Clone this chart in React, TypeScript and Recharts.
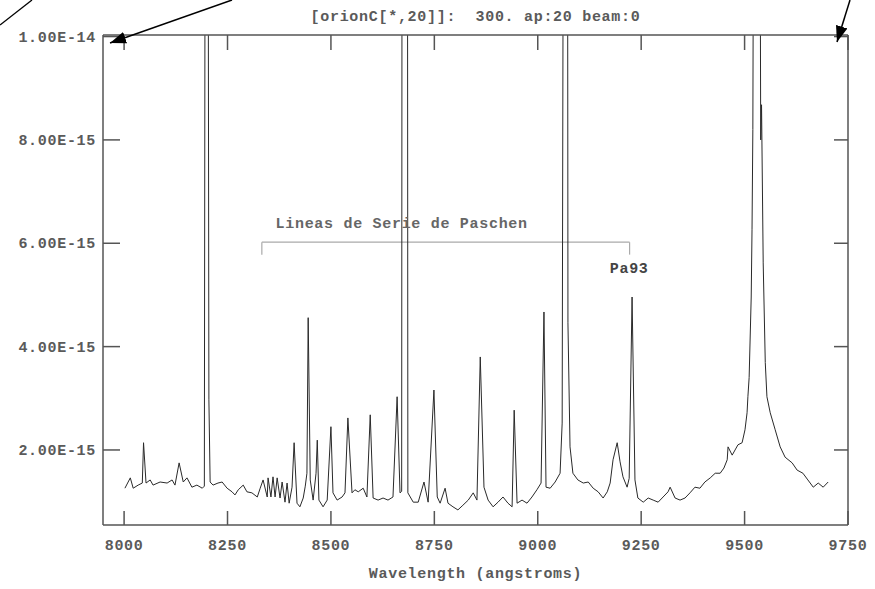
import React from 'react'
import { LineChart, Line, XAxis, YAxis, ReferenceLine, ReferenceDot } from 'recharts'

// wavelength in angstroms, flux in units of 1e-15 erg/s/cm2/A (peaks above 10 run off the plot)
const wavelength = [
  8002, 8015, 8022, 8034, 8044, 8047, 8053, 8063, 8070, 8087, 8104, 8116, 8123, 8133, 8143, 8152,
  8164, 8176, 8189, 8194, 8196, 8203, 8205, 8208, 8215, 8227, 8237, 8249, 8261, 8268, 8276, 8288,
  8297, 8309, 8322, 8329, 8336, 8346, 8348, 8355, 8360, 8365, 8370, 8377, 8382, 8389, 8394, 8399,
  8406, 8411, 8418, 8425, 8433, 8438, 8442, 8445, 8450, 8457, 8464, 8467, 8471, 8481, 8491, 8500,
  8505, 8515, 8527, 8534, 8541, 8551, 8558, 8566, 8578, 8587, 8595, 8602, 8614, 8626, 8638, 8650,
  8660, 8667, 8671, 8672, 8685, 8686, 8699, 8711, 8725, 8735, 8749, 8757, 8764, 8776, 8783, 8795,
  8807, 8819, 8832, 8844, 8853, 8861, 8870, 8880, 8892, 8904, 8916, 8928, 8938, 8943, 8950, 8962,
  8974, 8986, 8998, 9008, 9015, 9020, 9030, 9042, 9054, 9059, 9062, 9072, 9073, 9078, 9085, 9097,
  9110, 9122, 9134, 9146, 9158, 9168, 9175, 9182, 9192, 9199, 9206, 9216, 9221, 9228, 9235, 9242,
  9255, 9267, 9279, 9291, 9303, 9315, 9320, 9332, 9344, 9356, 9368, 9380, 9392, 9404, 9417, 9429,
  9441, 9450, 9458, 9460, 9470, 9477, 9484, 9494, 9501, 9506, 9508, 9511, 9516, 9518, 9520, 9522,
  9537, 9539, 9541, 9545, 9550, 9554, 9562, 9574, 9586, 9598, 9615, 9627, 9641, 9653, 9666, 9678,
  9690, 9702,
]
const flux = [
  1.26, 1.46, 1.26, 1.32, 1.36, 2.14, 1.36, 1.42, 1.32, 1.38, 1.36, 1.42, 1.32, 1.75, 1.38, 1.46,
  1.28, 1.32, 1.26, 1.3, 14, 14, 2.97, 1.38, 1.32, 1.36, 1.38, 1.26, 1.19, 1.13, 1.23, 1.32,
  1.19, 1.17, 1.09, 1.26, 1.42, 1.09, 1.46, 1.09, 1.48, 1.09, 1.46, 1.07, 1.38, 0.99, 1.36, 0.97,
  1.28, 2.14, 0.97, 0.9, 1.07, 1.3, 1.55, 4.56, 1.42, 1.03, 1.55, 2.19, 1.03, 0.9, 1.03, 2.45,
  1.17, 1.03, 1.09, 1.17, 2.62, 1.17, 1.23, 1.19, 1.26, 1.09, 2.68, 1.07, 1.03, 1.07, 1.03, 1.09,
  3.03, 1.17, 1.2, 14, 14, 1.17, 0.99, 0.99, 1.38, 0.99, 3.16, 1.09, 0.97, 1.26, 0.97, 0.9,
  0.84, 0.93, 1.03, 1.17, 1.03, 3.8, 1.28, 1.03, 0.9, 0.99, 1.09, 0.97, 0.9, 2.77, 0.97, 1.03,
  0.97, 1.09, 1.23, 1.36, 4.67, 1.28, 1.26, 1.38, 1.55, 2.52, 14, 14, 4.46, 2.06, 1.55, 1.42,
  1.36, 1.38, 1.26, 1.19, 1.07, 1.19, 1.36, 1.81, 2.14, 1.77, 1.48, 1.28, 1.45, 4.96, 1.42, 1.07,
  0.99, 1.07, 1.03, 0.99, 1.09, 1.19, 1.28, 1.07, 1.03, 1.07, 1.17, 1.28, 1.26, 1.38, 1.46, 1.55,
  1.55, 1.65, 1.81, 2.06, 1.9, 2.0, 2.1, 2.14, 2.39, 2.72, 3.03, 3.4, 4.96, 6.26, 8.2, 14,
  14, 8.0, 8.68, 5.62, 3.69, 3.03, 2.72, 2.39, 2.06, 1.86, 1.75, 1.61, 1.55, 1.42, 1.28, 1.36,
  1.28, 1.38,
]

const xTicks = [8000, 8250, 8500, 8750, 9000, 9250, 9500, 9750]
const yTicks = [2, 4, 6, 8, 10]
const yTickLabels = ['2.00E-15', '4.00E-15', '6.00E-15', '8.00E-15', '1.00E-14']

const title = '[orionC[*,20]]: \u00a0300. ap:20 beam:0'
const xLabel = 'Wavelength (angstroms)'
const seriesLabel = 'Lineas de Serie de Paschen'
const lineLabel = 'Pa93'

// bracket over the Paschen lines
const bracketX = [8333, 9222]
const bracketY = [6.02, 5.78]
const seriesLabelAt = { x: 8671, y: 6.4 }
const lineLabelAt = { x: 9221, y: 5.53 }

const xDomain = [7949, 9750]
const yDomain = [0.548, 10.03]

const FONT = '"Liberation Mono", "Courier New", monospace'
const AXIS = '#555'
const TEXT = '#5a5a5a'
const textStyle = { fontFamily: FONT, fontSize: 15, fontWeight: 700, letterSpacing: 0.7 }

const data = wavelength.map((w, i) => ({ w, f: flux[i] }))

function BottomTick(props: any) {
  const { x, y, payload } = props
  return (
    <g>
      <line x1={x} x2={x} y1={y - 15} y2={y - 29} stroke={AXIS} strokeWidth={1.5} />
      <text x={x} y={y + 10} textAnchor="middle" fill={TEXT} style={textStyle}>{payload.value}</text>
    </g>
  )
}

function TopTick(props: any) {
  const { x, y } = props
  return <line x1={x} x2={x} y1={y} y2={y + 15} stroke={AXIS} strokeWidth={1.5} />
}

function LeftTick(props: any) {
  const { x, y, payload } = props
  const i = yTicks.indexOf(payload.value)
  return (
    <g>
      <line x1={x + 7} x2={x + 24} y1={y} y2={y} stroke={AXIS} strokeWidth={1.5} />
      <text x={x} y={y + 5} textAnchor="end" fill={TEXT} style={textStyle}>{yTickLabels[i]}</text>
    </g>
  )
}

function RightTick(props: any) {
  const { x, y } = props
  return <line x1={x} x2={x - 14} y1={y} y2={y} stroke={AXIS} strokeWidth={1.5} />
}

function Arrows() {
  return (
    <svg width={875} height={589} style={{ position: 'absolute', left: 0, top: 0, pointerEvents: 'none' }}>
      <defs>
        <marker id="head" markerUnits="userSpaceOnUse" markerWidth={16} markerHeight={12} refX={16} refY={6} orient="auto">
          <path d="M0,0 L16,6 L0,12 z" fill="#000" />
        </marker>
      </defs>
      <line x1={0} y1={25} x2={32} y2={0} stroke="#000" strokeWidth={1.3} />
      <line x1={232} y1={0} x2={110} y2={43} stroke="#000" strokeWidth={1.5} markerEnd="url(#head)" />
      <line x1={850} y1={0} x2={837} y2={42} stroke="#000" strokeWidth={1.5} markerEnd="url(#head)" />
    </svg>
  )
}

export default function App() {
  const axisLine = { stroke: AXIS, strokeWidth: 1.5 }
  return (
    <div style={{ position: 'absolute', left: 0, top: 0, width: 875, height: 589, background: '#fff' }}>
      <LineChart width={875} height={589} data={data} margin={{ top: 34, right: 26, bottom: 0, left: 8 }}>
        <XAxis
          xAxisId="b"
          dataKey="w"
          type="number"
          domain={xDomain}
          ticks={xTicks}
          allowDataOverflow
          height={64}
          tickSize={0}
          tickMargin={15}
          tick={(p: any) => <BottomTick {...p} />}
          axisLine={axisLine}
          label={{ value: xLabel, position: 'insideBottom', offset: 11, fill: TEXT, ...textStyle }}
        />
        <XAxis
          xAxisId="t"
          dataKey="w"
          type="number"
          orientation="top"
          domain={xDomain}
          ticks={xTicks}
          allowDataOverflow
          height={1}
          tickSize={0}
          tickMargin={0}
          tick={(p: any) => <TopTick {...p} />}
          axisLine={axisLine}
          label={{ value: title, position: 'top', offset: 13, fill: TEXT, ...textStyle }}
        />
        <YAxis
          yAxisId="l"
          type="number"
          domain={yDomain}
          ticks={yTicks}
          allowDataOverflow
          width={95}
          tickSize={0}
          tickMargin={7}
          tick={(p: any) => <LeftTick {...p} />}
          axisLine={axisLine}
        />
        <YAxis
          yAxisId="r"
          type="number"
          orientation="right"
          domain={yDomain}
          ticks={yTicks}
          allowDataOverflow
          width={1}
          tickSize={0}
          tickMargin={0}
          tick={(p: any) => <RightTick {...p} />}
          axisLine={axisLine}
        />
        <ReferenceLine xAxisId="b" yAxisId="l" segment={[{ x: bracketX[0], y: bracketY[0] }, { x: bracketX[1], y: bracketY[0] }]} stroke="#aaa" strokeWidth={1.2} />
        <ReferenceLine xAxisId="b" yAxisId="l" segment={[{ x: bracketX[0], y: bracketY[0] }, { x: bracketX[0], y: bracketY[1] }]} stroke="#aaa" strokeWidth={1.2} />
        <ReferenceLine xAxisId="b" yAxisId="l" segment={[{ x: bracketX[1], y: bracketY[0] }, { x: bracketX[1], y: bracketY[1] }]} stroke="#aaa" strokeWidth={1.2} />
        <ReferenceDot
          xAxisId="b"
          yAxisId="l"
          x={seriesLabelAt.x}
          y={seriesLabelAt.y}
          r={0}
          fill="none"
          stroke="none"
          label={{ value: seriesLabel, position: 'center', fill: '#666', ...textStyle }}
        />
        <ReferenceDot
          xAxisId="b"
          yAxisId="l"
          x={lineLabelAt.x}
          y={lineLabelAt.y}
          r={0}
          fill="none"
          stroke="none"
          label={{ value: lineLabel, position: 'center', fill: '#444', ...textStyle }}
        />
        <Line
          xAxisId="b"
          yAxisId="l"
          type="linear"
          dataKey="f"
          stroke="#2a2a2a"
          strokeWidth={1}
          dot={false}
          isAnimationActive={false}
        />
      </LineChart>
      <Arrows />
    </div>
  )
}
